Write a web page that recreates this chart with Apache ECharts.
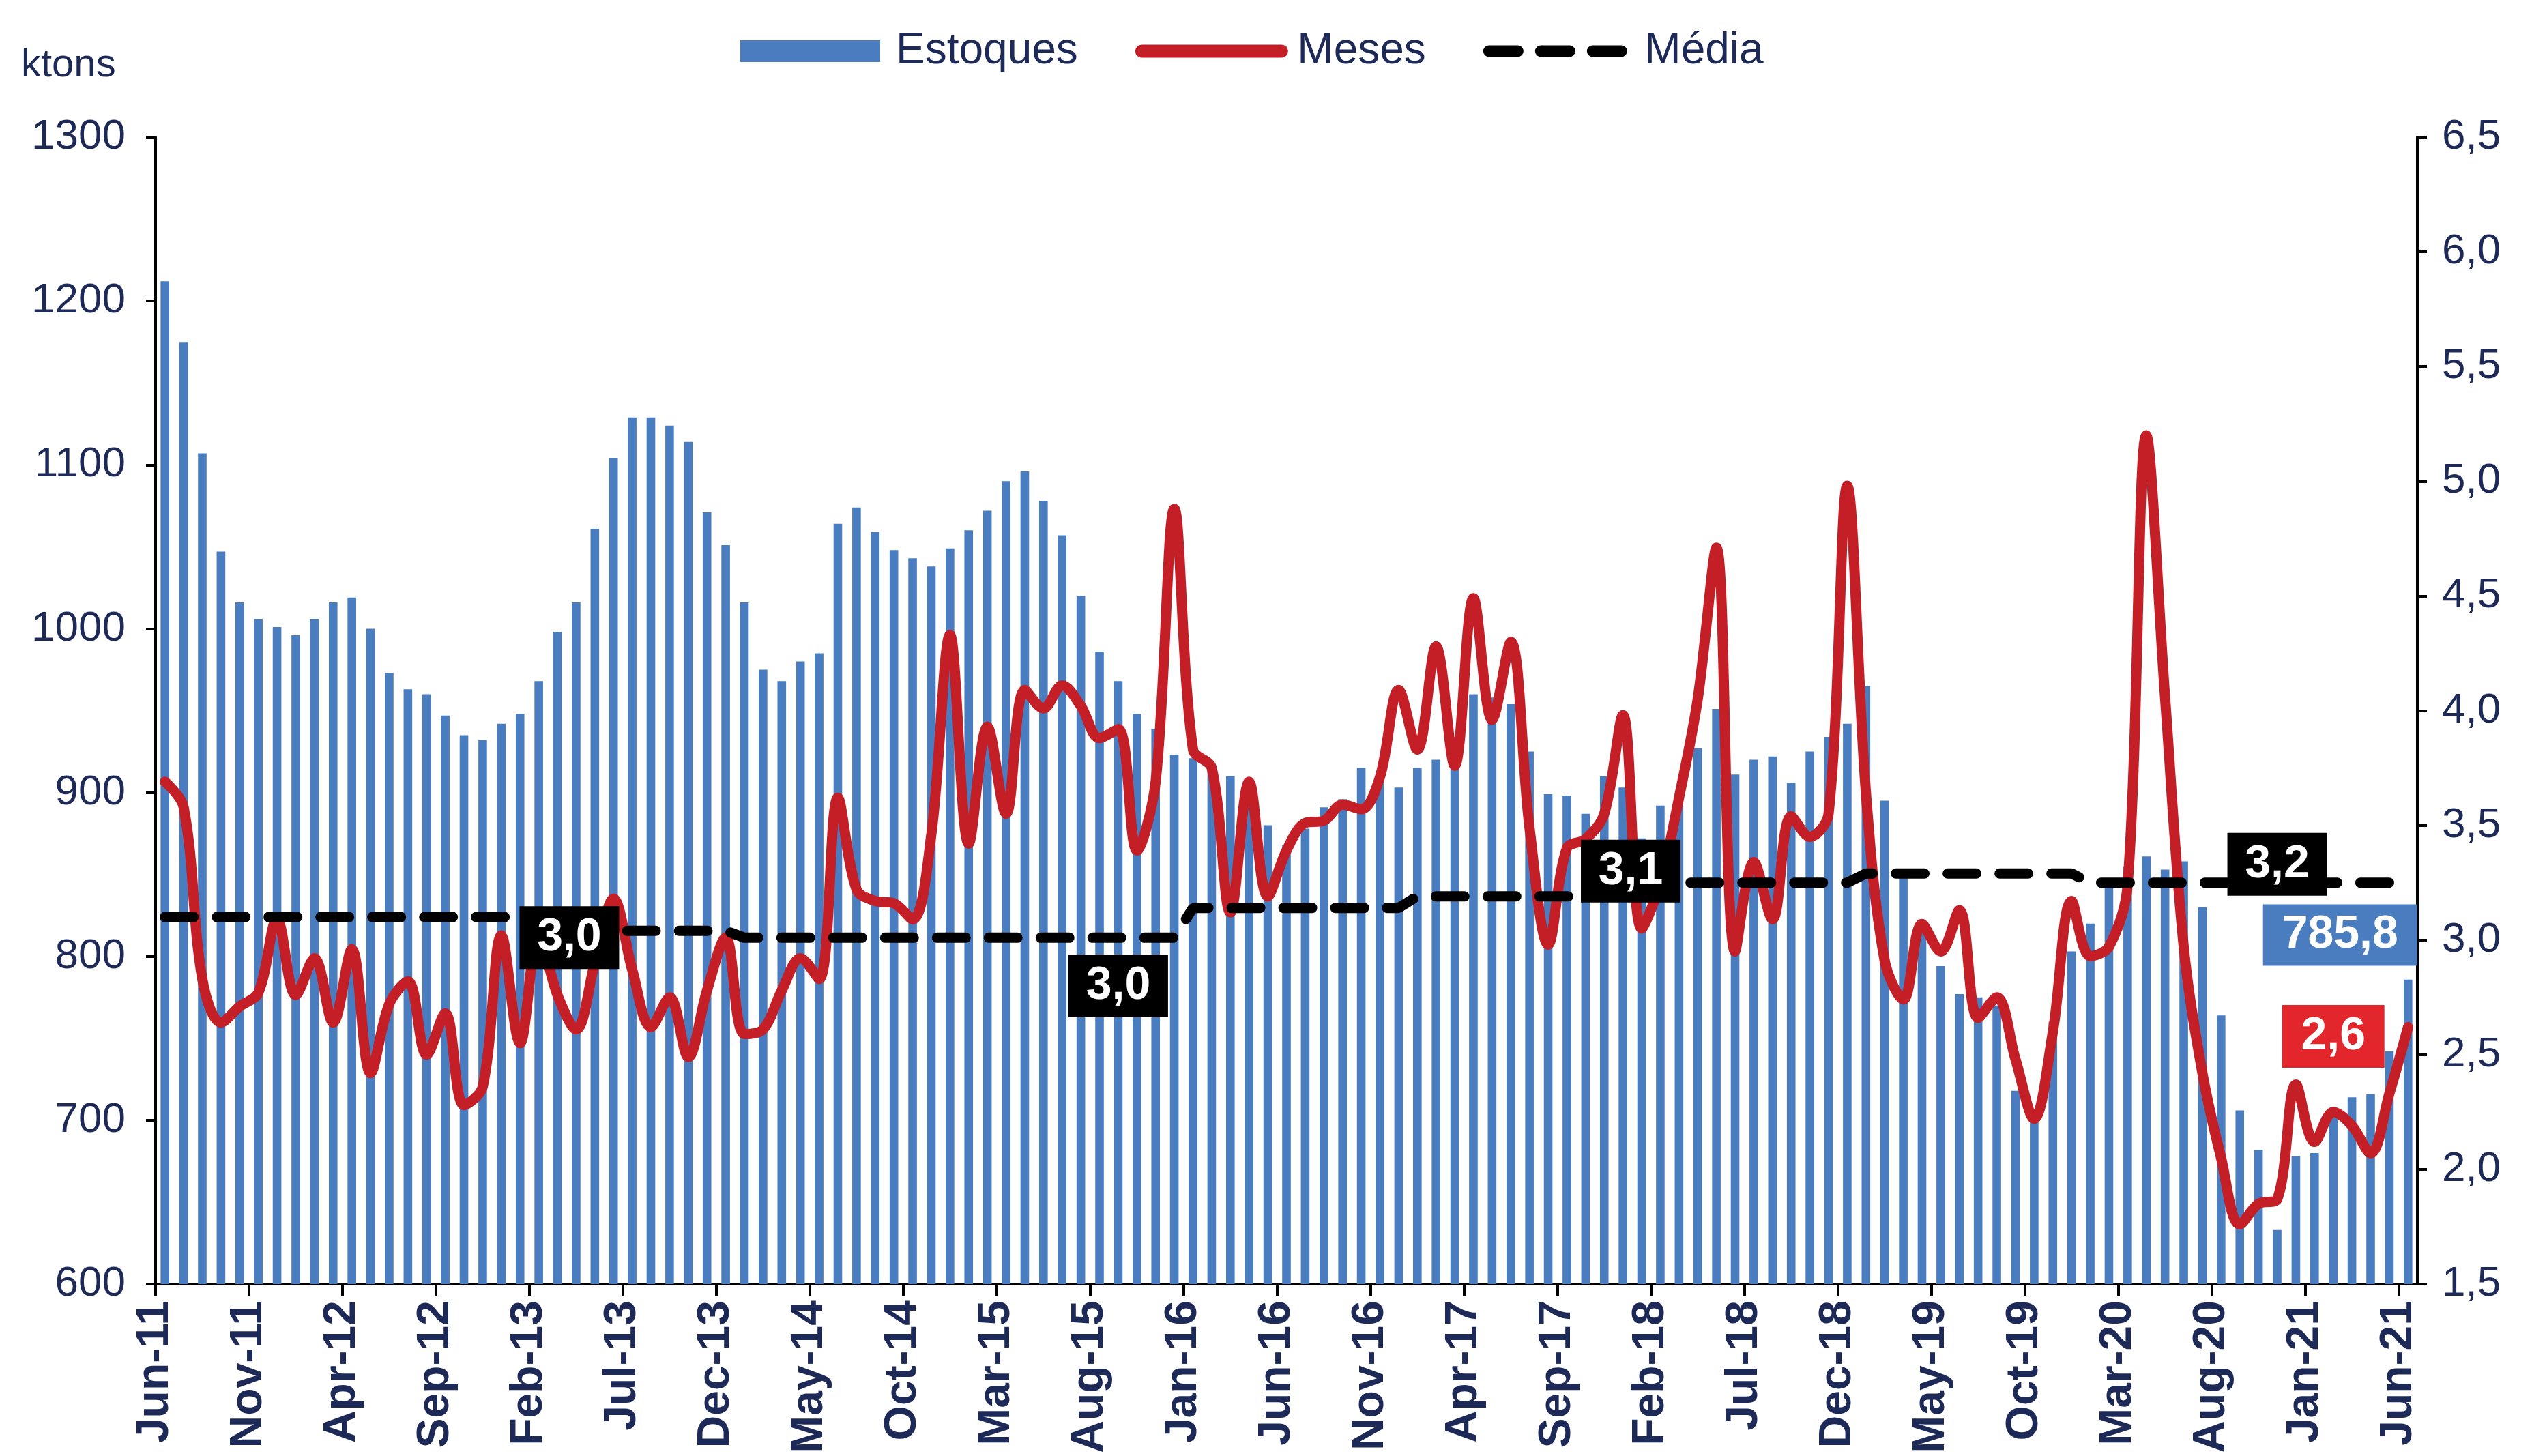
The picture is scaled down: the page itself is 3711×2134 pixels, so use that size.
<!DOCTYPE html>
<html>
<head>
<meta charset="utf-8">
<title>Estoques x Meses</title>
<script src="https://cdn.jsdelivr.net/npm/echarts@6/dist/echarts.min.js"></script>
<style>
  html, body { margin: 0; padding: 0; background: #fff; }
  #chart { width: 3711px; height: 2134px; }
</style>
</head>
<body>
<div id="chart"></div>
<script>
// Monthly categories, Jun-11 .. Jun-21
const months = [
  'Jun-11', 'Jul-11', 'Aug-11', 'Sep-11', 'Oct-11', 'Nov-11', 'Dec-11',
  'Jan-12', 'Feb-12', 'Mar-12', 'Apr-12', 'May-12', 'Jun-12', 'Jul-12', 'Aug-12', 'Sep-12', 'Oct-12', 'Nov-12', 'Dec-12',
  'Jan-13', 'Feb-13', 'Mar-13', 'Apr-13', 'May-13', 'Jun-13', 'Jul-13', 'Aug-13', 'Sep-13', 'Oct-13', 'Nov-13', 'Dec-13',
  'Jan-14', 'Feb-14', 'Mar-14', 'Apr-14', 'May-14', 'Jun-14', 'Jul-14', 'Aug-14', 'Sep-14', 'Oct-14', 'Nov-14', 'Dec-14',
  'Jan-15', 'Feb-15', 'Mar-15', 'Apr-15', 'May-15', 'Jun-15', 'Jul-15', 'Aug-15', 'Sep-15', 'Oct-15', 'Nov-15', 'Dec-15',
  'Jan-16', 'Feb-16', 'Mar-16', 'Apr-16', 'May-16', 'Jun-16', 'Jul-16', 'Aug-16', 'Sep-16', 'Oct-16', 'Nov-16', 'Dec-16',
  'Jan-17', 'Feb-17', 'Mar-17', 'Apr-17', 'May-17', 'Jun-17', 'Jul-17', 'Aug-17', 'Sep-17', 'Oct-17', 'Nov-17', 'Dec-17',
  'Jan-18', 'Feb-18', 'Mar-18', 'Apr-18', 'May-18', 'Jun-18', 'Jul-18', 'Aug-18', 'Sep-18', 'Oct-18', 'Nov-18', 'Dec-18',
  'Jan-19', 'Feb-19', 'Mar-19', 'Apr-19', 'May-19', 'Jun-19', 'Jul-19', 'Aug-19', 'Sep-19', 'Oct-19', 'Nov-19', 'Dec-19',
  'Jan-20', 'Feb-20', 'Mar-20', 'Apr-20', 'May-20', 'Jun-20', 'Jul-20', 'Aug-20', 'Sep-20', 'Oct-20', 'Nov-20', 'Dec-20',
  'Jan-21', 'Feb-21', 'Mar-21', 'Apr-21', 'May-21', 'Jun-21'
];

// Estoques (ktons), left axis
const estoques = [
  1212, 1175, 1107, 1047, 1016, 1006, 1001,
  996, 1006, 1016, 1019, 1000, 973, 963, 960, 947, 935, 932, 942,
  948, 968, 998, 1016, 1061, 1104, 1129, 1129, 1124, 1114, 1071, 1051,
  1016, 975, 968, 980, 985, 1064, 1074, 1059, 1048, 1043, 1038, 1049,
  1060, 1072, 1090, 1096, 1078, 1057, 1020, 986, 968, 948, 939, 923,
  921, 916, 910, 909, 880, 868, 878, 891, 896, 915, 906, 903,
  915, 920, 934, 960, 958, 954, 925, 899, 898, 887, 910, 903,
  872, 892, 892, 927, 951, 911, 920, 922, 906, 925, 934, 942,
  965, 895, 850, 815, 794, 777, 775, 770, 718, 700, 760, 803,
  820, 844, 855, 861, 853, 858, 830, 764, 706, 682, 633, 678,
  680, 705, 714, 716, 742, 785.8
];

// Meses de consumo, right axis
const meses = [
  3.69, 3.58, 2.83, 2.64, 2.71, 2.77, 3.09,
  2.76, 2.92, 2.64, 2.96, 2.42, 2.72, 2.82, 2.50, 2.68, 2.28, 2.36, 3.02,
  2.55, 3.02, 2.76, 2.61, 2.90, 3.18, 2.87, 2.62, 2.75, 2.49, 2.78, 3.01,
  2.59, 2.61, 2.78, 2.92, 2.83, 3.62, 3.22, 3.17, 3.16, 3.09, 3.46, 4.33,
  3.42, 3.93, 3.55, 4.09, 4.01, 4.11, 4.02, 3.88, 3.92, 3.39, 3.69, 4.88,
  3.83, 3.75, 3.12, 3.69, 3.19, 3.39, 3.51, 3.52, 3.59, 3.57, 3.71, 4.09,
  3.83, 4.28, 3.76, 4.49, 3.96, 4.30, 3.49, 2.98, 3.40, 3.44, 3.55, 3.98,
  3.05, 3.25, 3.62, 4.05, 4.71, 2.95, 3.34, 3.09, 3.54, 3.45, 3.55, 4.98,
  3.64, 2.91, 2.74, 3.07, 2.95, 3.13, 2.66, 2.75, 2.48, 2.22, 2.60, 3.17,
  2.93, 2.97, 3.24, 5.20, 4.06, 2.97, 2.42, 2.05, 1.76, 1.85, 1.87, 2.37,
  2.12, 2.25, 2.19, 2.07, 2.33, 2.62
];

// Média (running average), right axis
const media = [
  3.10, 3.10, 3.10, 3.10, 3.10, 3.10, 3.10,
  3.10, 3.10, 3.10, 3.10, 3.10, 3.10, 3.10, 3.10, 3.10, 3.10, 3.10, 3.10,
  3.10, 3.04, 3.04, 3.04, 3.04, 3.04, 3.04, 3.04, 3.04, 3.04, 3.04, 3.04,
  3.01, 3.01, 3.01, 3.01, 3.01, 3.01, 3.01, 3.01, 3.01, 3.01, 3.01, 3.01,
  3.01, 3.01, 3.01, 3.01, 3.01, 3.01, 3.01, 3.01, 3.01, 3.01, 3.01, 3.01,
  3.14, 3.14, 3.14, 3.14, 3.14, 3.14, 3.14, 3.14, 3.14, 3.14, 3.14, 3.14,
  3.19, 3.19, 3.19, 3.19, 3.19, 3.19, 3.19, 3.19, 3.19, 3.19, 3.19, 3.19,
  3.25, 3.25, 3.25, 3.25, 3.25, 3.25, 3.25, 3.25, 3.25, 3.25, 3.25, 3.25,
  3.29, 3.29, 3.29, 3.29, 3.29, 3.29, 3.29, 3.29, 3.29, 3.29, 3.29, 3.29,
  3.25, 3.25, 3.25, 3.25, 3.25, 3.25, 3.25, 3.25, 3.25, 3.25, 3.25, 3.25,
  3.25, 3.25, 3.25, 3.25, 3.25, 3.25
];

// Tick positions on the month axis (every 5 months)
const tickMonths = [0, 5, 10, 15, 20, 25, 30, 35, 40, 45, 50, 55, 60, 65, 70, 75, 80, 85, 90, 95, 100, 105, 110, 115, 120];

// Boxed annotations: [text, month index, value]
const mediaNotes = [['3,0', 22, 3.01], ['3,0', 51, 2.80], ['3,1', 79, 3.30], ['3,2', 113, 3.33]];
const lastStock = ['785,8', 116, 813];
const lastMonths = ['2,6', 116, 2.58];

const FONT = 'Liberation Sans, Arial, sans-serif';
const NAVY = '#1d2a57';
const BLUE = '#4a7dbf';
const RED = '#c41f26';

const chart = echarts.init(document.getElementById('chart'));

const boxLabel = {
  show: true,
  position: 'inside',
  formatter: '{b}',
  color: '#fff',
  fontSize: 68,
  fontWeight: 'bold',
  fontFamily: FONT
};

const option = {
  animation: false,
  backgroundColor: '#fff',
  textStyle: { fontFamily: FONT },
  title: {
    text: 'ktons',
    left: 26,
    top: 62,
    textStyle: { color: NAVY, fontSize: 58, fontWeight: 'normal', fontFamily: FONT }
  },
  legend: {
    left: 1080,
    top: 38,
    itemWidth: 205,
    itemHeight: 32,
    itemGap: 84,
    textStyle: { color: NAVY, fontSize: 64, fontFamily: FONT, padding: [0, 0, 0, 18] },
    data: [
      { name: 'Estoques', icon: 'rect' },
      { name: 'Meses', lineStyle: { width: 19 }, itemStyle: { opacity: 0 } },
      { name: 'Média', lineStyle: { width: 17 }, itemStyle: { opacity: 0 } }
    ]
  },
  grid: {
    left: 228,
    right: 168,
    top: 201,
    bottom: 252,
    containLabel: false,
    outerBoundsMode: 'none'
  },
  xAxis: [
    {
      type: 'category',
      data: months,
      boundaryGap: true,
      axisLine: { lineStyle: { color: '#000', width: 4 } },
      axisTick: { show: false },
      axisLabel: { show: false }
    },
    {
      type: 'value',
      min: 0,
      max: 121,
      interval: 5,
      position: 'bottom',
      axisLine: { show: false },
      splitLine: { show: false },
      axisTick: {
        show: true,
        length: 18,
        customValues: tickMonths,
        lineStyle: { color: '#000', width: 4 }
      },
      axisLabel: {
        customValues: tickMonths,
        rotate: 90,
        margin: 24,
        color: NAVY,
        fontSize: 66,
        fontWeight: 'bold',
        fontFamily: FONT,
        formatter: (v) => months[v] || ''
      }
    }
  ],
  yAxis: [
    {
      type: 'value',
      min: 600,
      max: 1300,
      interval: 100,
      splitLine: { show: false },
      axisLine: { show: true, lineStyle: { color: '#000', width: 4 } },
      axisTick: { show: true, length: 14, lineStyle: { color: '#000', width: 4 } },
      axisLabel: {
        color: NAVY,
        fontSize: 62,
        margin: 44,
        fontFamily: FONT,
        formatter: (v) => String(v)
      }
    },
    {
      type: 'value',
      min: 1.5,
      max: 6.5,
      interval: 0.5,
      position: 'right',
      splitLine: { show: false },
      axisLine: { show: true, lineStyle: { color: '#000', width: 4 } },
      axisTick: { show: true, length: 14, lineStyle: { color: '#000', width: 4 } },
      axisLabel: {
        color: NAVY,
        fontSize: 62,
        margin: 36,
        fontFamily: FONT,
        formatter: (v) => v.toFixed(1).replace('.', ',')
      }
    }
  ],
  series: [
    {
      name: 'Estoques',
      type: 'bar',
      xAxisIndex: 0,
      yAxisIndex: 0,
      data: estoques,
      barWidth: '46%',
      itemStyle: { color: BLUE },
      z: 2,
      markPoint: {
        symbol: 'rect',
        symbolSize: [226, 90],
        itemStyle: { color: BLUE },
        label: boxLabel,
        data: [{ name: lastStock[0], coord: [lastStock[1], lastStock[2]], symbolOffset: [10, 0] }],
        z: 10
      }
    },
    {
      name: 'Meses',
      type: 'line',
      xAxisIndex: 0,
      yAxisIndex: 1,
      data: meses,
      smooth: 0.35,
      symbol: 'none',
      lineStyle: { color: RED, width: 15, cap: 'round', join: 'round' },
      itemStyle: { color: RED },
      z: 3,
      markPoint: {
        symbol: 'rect',
        symbolSize: [150, 92],
        itemStyle: { color: '#e3262b' },
        label: boxLabel,
        data: [{ name: lastMonths[0], coord: [lastMonths[1], lastMonths[2]] }],
        z: 10
      }
    },
    {
      name: 'Média',
      type: 'line',
      xAxisIndex: 0,
      yAxisIndex: 1,
      data: media,
      symbol: 'none',
      lineStyle: { color: '#000', width: 15, type: [42, 34], cap: 'round' },
      itemStyle: { color: '#000' },
      z: 4,
      markPoint: {
        symbol: 'rect',
        symbolSize: [146, 92],
        itemStyle: { color: '#000' },
        label: boxLabel,
        data: [
          { name: mediaNotes[0][0], coord: [mediaNotes[0][1], mediaNotes[0][2]], symbolOffset: [-10, 0] },
          { name: mediaNotes[1][0], coord: [mediaNotes[1][1], mediaNotes[1][2]] },
          { name: mediaNotes[2][0], coord: [mediaNotes[2][1], mediaNotes[2][2]], symbolOffset: [-16, 0] },
          { name: mediaNotes[3][0], coord: [mediaNotes[3][1], mediaNotes[3][2]] }
        ],
        z: 10
      }
    }
  ]
};

chart.setOption(option);
</script>
</body>
</html>
